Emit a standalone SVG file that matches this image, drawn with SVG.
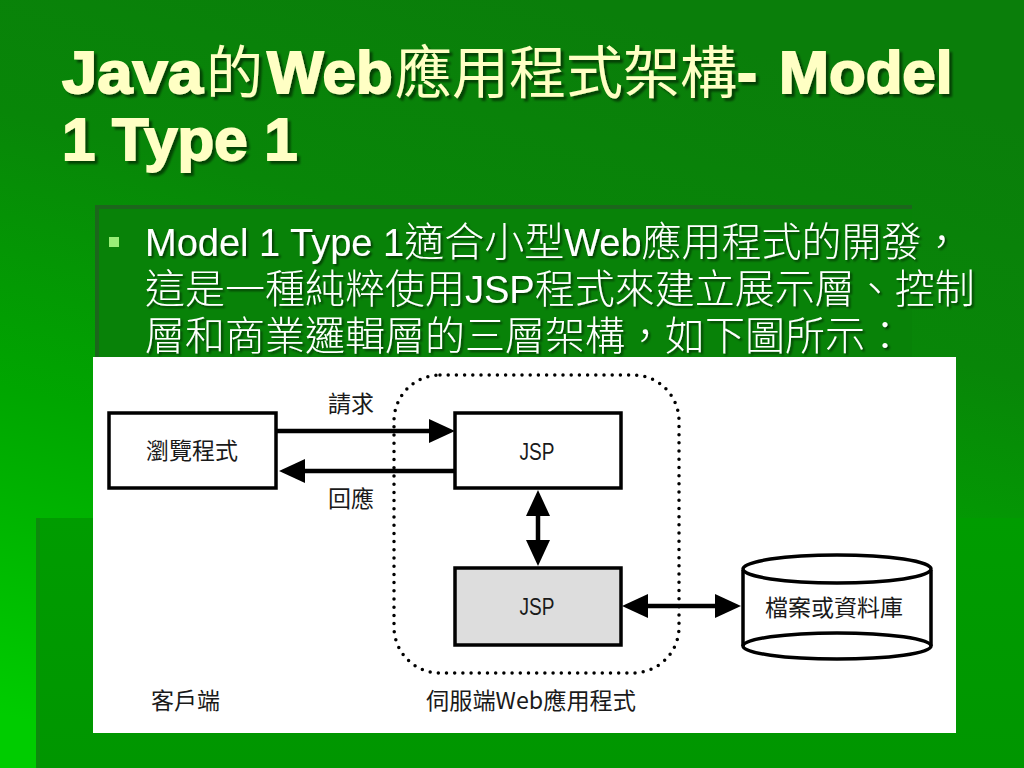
<svg xmlns="http://www.w3.org/2000/svg" width="1024" height="768" viewBox="0 0 1024 768">
<defs>
<linearGradient id="bg" x1="0.55" y1="0" x2="0.2" y2="1">
<stop offset="0" stop-color="#0a7e0a"/>
<stop offset="0.3" stop-color="#088608"/>
<stop offset="0.62" stop-color="#00a600"/>
<stop offset="1" stop-color="#00cc00"/>
</linearGradient>
<linearGradient id="band" x1="0" y1="0" x2="0" y2="1">
<stop offset="0" stop-color="#009c00"/>
<stop offset="1" stop-color="#009600"/>
</linearGradient>
<filter id="sh" x="-5%" y="-20%" width="110%" height="140%">
<feDropShadow dx="2" dy="2" stdDeviation="0.8" flood-color="#000" flood-opacity="0.55"/>
</filter>
<filter id="tsh" x="-5%" y="-20%" width="110%" height="140%">
<feDropShadow dx="3" dy="3" stdDeviation="1" flood-color="#000" flood-opacity="0.5"/>
</filter>
<marker id="ah" viewBox="0 0 26 24" refX="16" refY="12" markerWidth="26" markerHeight="24" markerUnits="userSpaceOnUse" orient="auto-start-reverse">
<path d="M0,0 L26,12 L0,24 z" fill="#000"/>
</marker>
<style>
.title{fill:#ffffc4;font-family:"Liberation Sans",Arial,sans-serif;font-weight:bold;font-size:60px;stroke:#ffffc4;stroke-width:1.8px;}
.tcjk{font-family:"Noto Sans CJK TC","Noto Sans CJK SC",sans-serif;font-weight:normal;font-size:57px;stroke-width:0;}
.body{fill:#ffffff;font-family:"Liberation Sans",Arial,sans-serif;font-size:38px;}
.bcjk{font-family:"Noto Sans CJK TC","Noto Sans CJK SC",sans-serif;font-weight:300;font-size:40px;}
.box{fill:#ffffff;stroke:#000;stroke-width:3.5;}
.lbl{fill:#1a1a1a;font-family:"Noto Sans CJK TC","Noto Sans CJK SC",sans-serif;font-size:23px;}
.jsp{fill:#1a1a1a;font-family:"Liberation Sans",Arial,sans-serif;font-size:24px;}
.conn{stroke:#000;stroke-width:4.5;fill:none;}
</style>
</defs>

<!-- background -->
<rect x="0" y="0" width="1024" height="768" fill="url(#bg)"/>
<rect x="95" y="205" width="817" height="313" fill="#088208"/>
<rect x="95" y="205" width="817" height="4" fill="#1c661c"/>
<rect x="95" y="205" width="4" height="313" fill="#1c661c"/>
<rect x="36" y="518" width="988" height="250" fill="url(#band)"/>
<rect x="36" y="518" width="4" height="250" fill="#0d8a0d"/>

<!-- title -->
<text class="title" filter="url(#tsh)"><tspan x="62" y="93" textLength="141" lengthAdjust="spacingAndGlyphs">Java</tspan><tspan class="tcjk" x="206" y="93">的</tspan><tspan x="267" y="93">Web</tspan><tspan class="tcjk" x="395" y="93">應用程式架構</tspan><tspan x="737" y="93">- </tspan><tspan x="779" y="93">Model</tspan><tspan x="62" y="160">1 Type 1</tspan></text>

<!-- bullet text -->
<rect x="109" y="237" width="10" height="10" fill="#99ee77"/>
<text class="body" filter="url(#sh)"><tspan x="145" y="256">Model 1 Type 1</tspan><tspan class="bcjk">適合小型</tspan><tspan>Web</tspan><tspan class="bcjk">應用程式的開發，</tspan><tspan class="bcjk" x="145" y="303">這是一種純粹使用</tspan><tspan>JSP</tspan><tspan class="bcjk">程式來建立展示層、控制</tspan><tspan class="bcjk" x="145" y="350">層和商業邏輯層的三層架構，如下圖所示：</tspan></text>

<!-- white diagram panel -->
<rect x="93" y="357" width="863" height="376" fill="#ffffff"/>

<g id="server-boundary">
<rect x="394" y="375" width="285" height="298" rx="46" ry="46" fill="none" stroke="#000" stroke-width="3.5" stroke-linecap="round" stroke-dasharray="0 8.2"/>
<text class="lbl" x="426" y="709" textLength="210" lengthAdjust="spacingAndGlyphs">伺服端Web應用程式</text>
</g>

<g id="client-label">
<text class="lbl" x="151" y="709">客戶端</text>
</g>

<g id="browser">
<rect class="box" x="109" y="413" width="167" height="75"/>
<text class="lbl" x="192" y="459" text-anchor="middle">瀏覽程式</text>
</g>

<g id="jsp-top">
<rect class="box" x="455" y="413" width="166" height="75"/>
<text class="jsp" x="537" y="460" text-anchor="middle" textLength="35" lengthAdjust="spacingAndGlyphs">JSP</text>
</g>

<g id="jsp-bottom">
<rect class="box" x="455" y="568" width="166" height="77" style="fill:#dddddd"/>
<text class="jsp" x="537" y="615" text-anchor="middle" textLength="35" lengthAdjust="spacingAndGlyphs">JSP</text>
</g>

<g id="database">
<path d="M743,570 L743,646 A94,13 0 0 0 931,646 L931,570 Z" fill="#fff" stroke="none"/>
<line x1="743" y1="570" x2="743" y2="646" stroke="#000" stroke-width="3.5"/>
<line x1="931" y1="570" x2="931" y2="646" stroke="#000" stroke-width="3.5"/>
<ellipse cx="837" cy="646" rx="94" ry="13" fill="none" stroke="#000" stroke-width="3.5"/>
<ellipse cx="837" cy="569" rx="94" ry="14" fill="#fff" stroke="#000" stroke-width="3.5"/>
<text class="lbl" x="834" y="616" text-anchor="middle">檔案或資料庫</text>
</g>

<g id="connectors">
<line class="conn" x1="276" y1="431" x2="445" y2="431" marker-end="url(#ah)"/>
<text class="lbl" x="351" y="412" text-anchor="middle">請求</text>
<line class="conn" x1="455" y1="471" x2="289" y2="471" marker-end="url(#ah)"/>
<text class="lbl" x="351" y="507" text-anchor="middle">回應</text>
<line class="conn" x1="538" y1="500" x2="538" y2="556" marker-start="url(#ah)" marker-end="url(#ah)"/>
<line class="conn" x1="632" y1="606" x2="731" y2="606" marker-start="url(#ah)" marker-end="url(#ah)"/>
</g>
</svg>
